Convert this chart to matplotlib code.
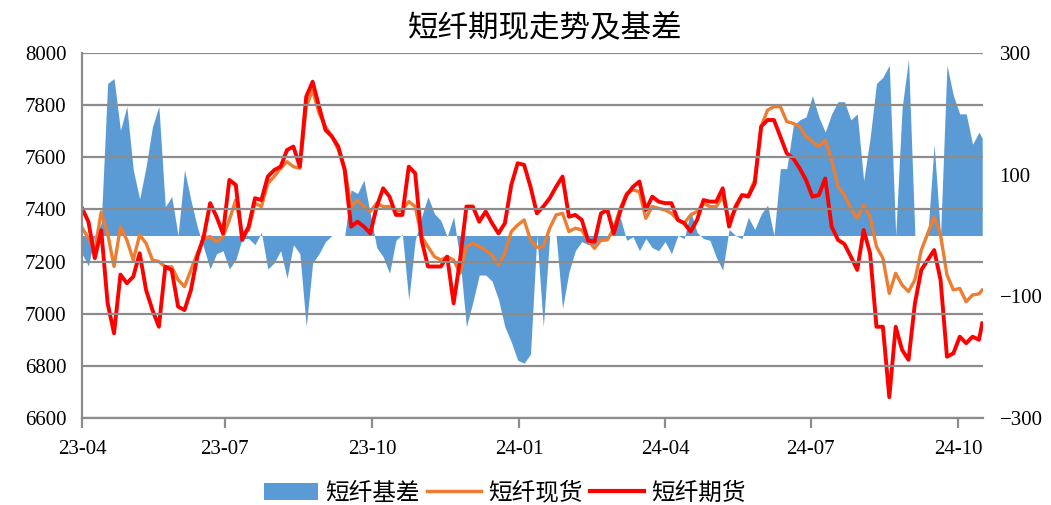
import matplotlib
matplotlib.use('Agg')
import matplotlib.pyplot as plt
import pandas as pd
from matplotlib.patches import Patch
from matplotlib.lines import Line2D

# dates: every 4 days from 2023-04-03, plus last observation
dates = list(pd.date_range('2023-04-03', periods=141, freq='4D')) + [pd.Timestamp('2024-10-16')]

futures = [
    7405, 7353, 7213, 7320, 7040, 6925, 7150, 7117, 7142, 7232,
    7091, 7014, 6950, 7180, 7168, 7027, 7014, 7091, 7219, 7296,
    7424, 7372, 7308, 7513, 7494, 7283, 7334, 7443, 7436, 7526,
    7551, 7564, 7628, 7641, 7564, 7833, 7890, 7794, 7705, 7680,
    7641, 7551, 7334, 7353, 7334, 7308, 7411, 7481, 7449, 7379,
    7379, 7564, 7539, 7283, 7181, 7181, 7181, 7219, 7040, 7206,
    7411, 7411, 7353, 7392, 7347, 7308, 7347, 7494, 7577, 7571,
    7487, 7385, 7411, 7443, 7487, 7526, 7372, 7379, 7360, 7280,
    7277, 7385, 7398, 7308, 7392, 7455, 7487, 7507, 7398, 7449,
    7430, 7424, 7424, 7360, 7347, 7315, 7360, 7436, 7430, 7430,
    7481, 7334, 7411, 7455, 7449, 7500, 7718, 7743, 7743, 7679,
    7615, 7596, 7558, 7513, 7449, 7455, 7519, 7334, 7283, 7267,
    7219, 7168, 7321, 7232, 6950, 6950, 6680, 6950, 6861, 6823,
    7040, 7168, 7206, 7244, 7130, 6835, 6848, 6912, 6887, 6912,
    6900, 6963]

spot = [
    7330, 7290, 7245, 7390, 7308, 7181, 7334, 7283, 7206, 7302,
    7270, 7206, 7200, 7180, 7180, 7130, 7104, 7168, 7232, 7290,
    7296, 7276, 7296, 7360, 7436, 7308, 7321, 7424, 7411, 7500,
    7526, 7558, 7583, 7564, 7558, 7794, 7858, 7769, 7718, 7680,
    7630, 7560, 7411, 7436, 7411, 7392, 7424, 7411, 7411, 7392,
    7398, 7430, 7411, 7296, 7257, 7219, 7206, 7219, 7206, 7155,
    7257, 7270, 7257, 7244, 7225, 7187, 7232, 7315, 7340, 7360,
    7283, 7255, 7257, 7328, 7379, 7385, 7315, 7328, 7321, 7280,
    7251, 7283, 7283, 7328, 7404, 7462, 7475, 7468, 7366, 7411,
    7404, 7398, 7385, 7360, 7347, 7379, 7392, 7424, 7411, 7411,
    7449, 7360, 7398, 7455, 7455, 7513, 7718, 7781, 7794, 7794,
    7737, 7730, 7718, 7679, 7660, 7641, 7666, 7590, 7487, 7455,
    7404, 7366, 7417, 7372, 7257, 7213, 7078, 7155, 7110, 7085,
    7130, 7244, 7308, 7372, 7302, 7149, 7091, 7097, 7046, 7072,
    7076, 7091]

basis = [
    -30, -50, 0, 20, 250, 258, 173, 212, 108, 60,
    113, 179, 212, 47, 64, 0, 108, 58, 14, -20,
    -55, -30, -25, -55, -40, -5, -5, -15, 5, -55,
    -45, -25, -70, -15, -30, -150, -45, -30, -10, 0,
    0, 0, 75, 69, 91, 36, -20, -35, -62, -8,
    2, -106, -8, 31, 64, 36, 25, -2, 31, -40,
    -150, -110, -65, -65, -75, -105, -150, -175, -205, -210,
    -195, 0, -150, 0, 0, -120, -60, -25, -10, -15,
    -15, -10, -8, 10, 30, -8, -2, -25, -5, -20,
    -25, -10, -30, 0, -5, 40, 5, -5, -8, -36,
    -57, 10, 0, -5, 30, 10, 35, 50, 0, 110,
    110, 180, 190, 195, 230, 195, 170, 200, 220, 220,
    190, 200, 90, 160, 250, 260, 280, 0, 210, 290,
    0, 0, 0, 150, 0, 280, 230, 200, 200, 150,
    170, 160]

left_ticks = [6600, 6800, 7000, 7200, 7400, 7600, 7800, 8000]
right_ticks = [-300, -100, 100, 300]
xtick_dates = ['2023-04-03', '2023-07-01', '2023-10-01', '2024-01-01',
               '2024-04-01', '2024-07-01', '2024-10-01']
xtick_labels = ['23-04', '23-07', '23-10', '24-01', '24-04', '24-07', '24-10']

title = '短纤期现走势及基差'
names = ['短纤基差', '短纤现货', '短纤期货']

BLUE = '#5B9BD5'
ORANGE = '#ED7D31'
RED = '#FF0000'
GRID = '#8C8C8C'
CJK = ['Noto Sans CJK SC', 'DejaVu Sans']
NUM = 'Liberation Serif'

W, H = 1051, 505
fig = plt.figure(figsize=(W / 100, H / 100), dpi=100)
ax = fig.add_axes([82 / W, 1 - 418 / H, (983 - 82) / W, (418 - 53) / H])
ax2 = ax.twinx()

ax2.fill_between(dates, 0, basis, color=BLUE, lw=0)
ax2.set_ylim(-300, 300)
ax2.set_yticks(right_ticks)

ax.set_zorder(ax2.get_zorder() + 1)
ax.patch.set_visible(False)
ax.plot(dates, spot, color=ORANGE, lw=2.4, solid_joinstyle='round')
ax.plot(dates, futures, color=RED, lw=2.8, solid_joinstyle='round')
ax.set_ylim(6600, 8000)
ax.set_yticks(left_ticks)
ax.grid(axis='y', color=GRID, lw=1.6)
ax.set_axisbelow(False)

ax.set_xlim(pd.Timestamp('2023-04-03'), pd.Timestamp('2024-10-16 12:00'))
ax.set_xticks([pd.Timestamp(d) for d in xtick_dates])
ax.set_xticklabels(xtick_labels)

for s in ['top', 'right']:
    ax.spines[s].set_visible(False)
for s in ax2.spines.values():
    s.set_visible(False)
ax.spines['left'].set_color(GRID)
ax.spines['bottom'].set_color(GRID)
ax.spines['left'].set_linewidth(1.6)
ax.spines['bottom'].set_linewidth(1.6)

ax.tick_params(axis='y', length=0, pad=11, labelsize=15)
ax.tick_params(axis='x', length=7, width=1.6, color=GRID, direction='out', pad=9, labelsize=15)
ax2.tick_params(axis='y', length=0, pad=12, labelsize=15)
for lab in ax.get_xticklabels() + ax.get_yticklabels() + ax2.get_yticklabels():
    lab.set_fontfamily(NUM)

fig.text(545 / W, 1 - 28 / H, title, ha='center', va='center', fontsize=22, family=CJK)

handles = [Patch(facecolor=BLUE, edgecolor='none'),
           Line2D([], [], color=ORANGE, lw=2.5),
           Line2D([], [], color=RED, lw=3)]
fig.legend(handles, names, loc='center', bbox_to_anchor=(505 / W, 1 - 493 / H), ncol=3,
           frameon=False, prop={'family': CJK, 'size': 17}, handlelength=2.3,
           handletextpad=0.3, columnspacing=0.3, handleheight=0.7)

fig.savefig('out.png', dpi=100)
